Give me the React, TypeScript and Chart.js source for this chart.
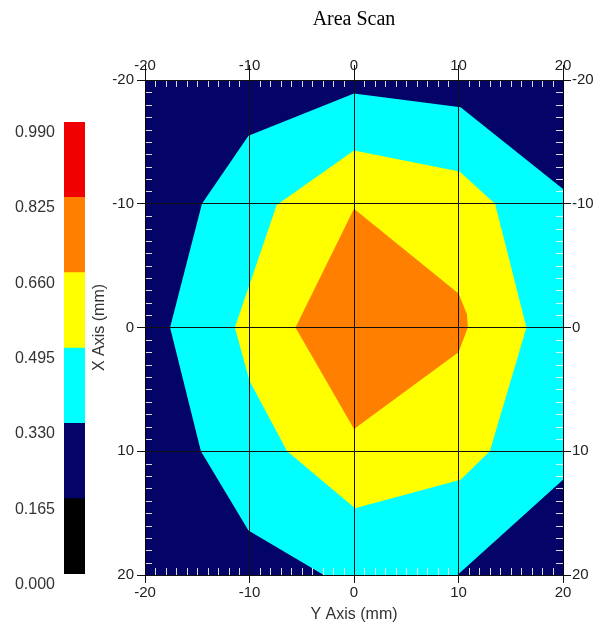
import React, { useEffect, useRef } from 'react';
import { Chart, registerables } from 'chart.js';

Chart.register(...registerables);

// ---- data ----
const axisTicks = [-20, -10, 0, 10, 20];
const levelBounds = [0, 0.165, 0.33, 0.495, 0.66, 0.825, 0.99];
const levelLabels = ['0.000', '0.165', '0.330', '0.495', '0.660', '0.825', '0.990'];
const levelColors = ['#000000', '#030368', '#00ffff', '#ffff00', '#ff8000', '#f00000'];

// contour polygons (Y axis mm = horizontal, X axis mm = vertical)
const contour330X = [0, 10.2, 20, 20, 9.9, -2.9, -10.1, -14.65, -17.6, -14.55, -10.1];
const contour330Y = [-18.9, -17.8, -11.2, 12.3, 20, 20, 16.4, 10, 0, -10, -15.5];
const contour495X = [0, 10.1, 13.5, 16.5, 13.0, 10.2, 0.1, -6.4, -10, -11.4, -7.4];
const contour495Y = [-14.3, -12.6, -10, 0, 10, 12.3, 14.6, 10, 4.3, 0, -9.9];
const contour660X = [0, 10, 10.8, 10.9, 10, 0, -5.6];
const contour660Y = [-9.6, -2.75, -1.1, 0, 2, 8.2, 0];

const sans = "'Liberation Sans', Arial, Helvetica, sans-serif";
const serif = "'Liberation Serif', 'Times New Roman', Times, serif";

function poly(xs: number[], ys: number[]) {
  const pts = xs.map((x, i) => ({ x, y: ys[i] }));
  pts.push({ ...pts[0] });
  return pts;
}

const bgPlugin = {
  id: 'plotBg',
  beforeDatasetsDraw(chart: any) {
    const { ctx, chartArea: a } = chart;
    ctx.save();
    ctx.fillStyle = levelColors[1];
    ctx.fillRect(a.left, a.top, a.right - a.left, a.bottom - a.top);
    ctx.restore();
  },
};

const minorTickPlugin = {
  id: 'minorTicks',
  afterDatasetsDraw(chart: any) {
    const { ctx, chartArea: a, scales } = chart;
    const xs = scales.x;
    const ys = scales.y;
    ctx.save();
    ctx.strokeStyle = 'rgba(255,255,255,0.85)';
    ctx.lineWidth = 1;
    ctx.beginPath();
    for (let v = -19; v <= 19; v++) {
      if (v % 10 === 0) continue;
      const px = Math.round(xs.getPixelForValue(v)) + 0.5;
      ctx.moveTo(px, a.top);
      ctx.lineTo(px, a.top + 7);
      ctx.moveTo(px, a.bottom);
      ctx.lineTo(px, a.bottom - 7);
      const py = Math.round(ys.getPixelForValue(v)) + 0.5;
      ctx.moveTo(a.left, py);
      ctx.lineTo(a.left + 7, py);
      ctx.moveTo(a.right, py);
      ctx.lineTo(a.right - 7, py);
    }
    ctx.stroke();
    ctx.restore();
  },
};

export default function App() {
  const mainRef = useRef<HTMLCanvasElement>(null);
  const barRef = useRef<HTMLCanvasElement>(null);

  useEffect(() => {
    const tickFont = { family: sans, size: 15 };
    const tickColor = '#222';
    const gridColor = '#111';
    const setTicks = (s: any) => {
      s.ticks = axisTicks.map((v) => ({ value: v }));
    };

    const mkSet = (xs: number[], ys: number[], color: string, order: number) => ({
      data: poly(xs, ys),
      showLine: true,
      fill: 'shape',
      backgroundColor: color,
      borderColor: 'rgba(0,0,0,0)',
      borderWidth: 0,
      pointRadius: 0,
      pointHoverRadius: 0,
      tension: 0,
      order,
    });

    const main = new Chart(mainRef.current!, {
      type: 'scatter',
      data: {
        datasets: [
          mkSet(contour330X, contour330Y, levelColors[2], 3),
          mkSet(contour495X, contour495Y, levelColors[3], 2),
          mkSet(contour660X, contour660Y, levelColors[4], 1),
        ] as any,
      },
      options: {
        responsive: false,
        animation: false,
        events: [],
        layout: { padding: { left: 90, right: 0, top: 0, bottom: 0 } },
        plugins: {
          legend: { display: false },
          tooltip: { enabled: false },
          title: {
            display: true,
            fullSize: false,
            text: 'Area Scan',
            color: '#000',
            font: { family: serif, size: 20, weight: 'normal' },
            padding: { top: 8, bottom: 0 },
          },
        },
        scales: {
          x: {
            type: 'linear',
            axis: 'x',
            position: 'bottom',
            min: -20,
            max: 20,
            afterBuildTicks: setTicks,
            afterFit: (s: any) => {
              s.height = 50;
            },
            grid: { color: gridColor, z: 1, tickLength: 8, drawOnChartArea: true, lineWidth: 1 },
            border: { color: '#000', z: 1 },
            ticks: { color: tickColor, font: tickFont, padding: 1, maxRotation: 0, autoSkip: false },
            title: {
              display: true,
              text: 'Y Axis (mm)',
              color: '#333',
              font: { family: sans, size: 16 },
              padding: { top: 0, bottom: 1 },
            },
          },
          xTop: {
            type: 'linear',
            axis: 'x',
            position: 'top',
            min: -20,
            max: 20,
            afterBuildTicks: setTicks,
            afterFit: (s: any) => {
              s.height = 48;
            },
            grid: { color: gridColor, z: 1, tickLength: 15, drawOnChartArea: false },
            border: { color: '#000', z: 1 },
            ticks: { color: tickColor, font: tickFont, padding: -10, maxRotation: 0, autoSkip: false },
          },
          y: {
            type: 'linear',
            axis: 'y',
            position: 'left',
            reverse: true,
            min: -20,
            max: 20,
            afterBuildTicks: setTicks,
            afterFit: (s: any) => {
              s.width = 55;
            },
            grid: { color: gridColor, z: 1, tickLength: 8, drawOnChartArea: true, lineWidth: 1 },
            border: { color: '#000', z: 1 },
            ticks: { color: tickColor, font: tickFont, padding: 3, autoSkip: false },
            title: {
              display: true,
              text: 'X Axis (mm)',
              color: '#333',
              font: { family: sans, size: 16 },
              padding: { top: 0, bottom: 0 },
            },
          },
          yRight: {
            type: 'linear',
            axis: 'y',
            position: 'right',
            reverse: true,
            min: -20,
            max: 20,
            afterBuildTicks: setTicks,
            afterFit: (s: any) => {
              s.width = 34;
            },
            grid: { color: gridColor, z: 1, tickLength: 8, drawOnChartArea: false },
            border: { color: '#000', z: 1 },
            ticks: { color: tickColor, font: tickFont, padding: 1, autoSkip: false },
          },
        },
      } as any,
      plugins: [bgPlugin, minorTickPlugin],
    });

    const bar = new Chart(barRef.current!, {
      type: 'bar',
      data: {
        labels: [''],
        datasets: levelColors.map((c, i) => ({
          data: [[levelBounds[i], levelBounds[i + 1]]],
          backgroundColor: c,
          borderWidth: 0,
          barPercentage: 1,
          categoryPercentage: 1,
          grouped: false,
        })) as any,
      },
      options: {
        responsive: false,
        animation: false,
        events: [],
        layout: { padding: { left: 0, right: 15, top: 122, bottom: 51 } },
        plugins: { legend: { display: false }, tooltip: { enabled: false } },
        scales: {
          x: { display: false },
          y: {
            min: 0,
            max: 0.99,
            afterBuildTicks: (s: any) => {
              s.ticks = levelBounds.map((v) => ({ value: v }));
            },
            afterFit: (s: any) => {
              s.width = 64;
            },
            grid: { display: false, drawTicks: false },
            border: { display: false },
            ticks: {
              autoSkip: false,
              padding: 9,
              labelOffset: 10.5,
              color: '#333',
              font: { family: sans, size: 16 },
              callback: (_v: any, i: number) => levelLabels[i],
            },
          },
        },
      } as any,
    });

    return () => {
      main.destroy();
      bar.destroy();
    };
  }, []);

  return (
    <div style={{ position: 'absolute', left: 0, top: 0, width: 597, height: 625, background: '#fff' }}>
      <canvas ref={barRef} width={100} height={625} style={{ position: 'absolute', left: 0, top: 0 }} />
      <canvas ref={mainRef} width={597} height={625} style={{ position: 'absolute', left: 0, top: 0 }} />
    </div>
  );
}
